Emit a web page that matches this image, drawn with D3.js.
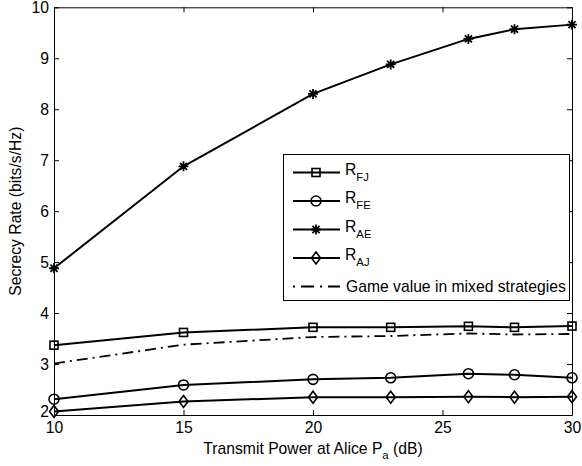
<!DOCTYPE html>
<html>
<head>
<meta charset="utf-8">
<script src="https://cdn.jsdelivr.net/npm/d3@7/dist/d3.min.js"></script>
<style>
  html, body { margin: 0; padding: 0; background: #fff; }
  svg { display: block; font-family: "Liberation Sans", Arial, Helvetica, sans-serif; }
</style>
</head>
<body>
<svg id="chart" width="582" height="466"></svg>
<script>
// Transmit power at Alice (dB)
const powerDb = [10, 15, 20, 23, 26, 27.78, 30];

// Secrecy rates (bits/s/Hz)
const rFJ  = [3.37, 3.62, 3.72, 3.72, 3.74, 3.72, 3.745];
const rFE  = [2.31, 2.59, 2.70, 2.73, 2.81, 2.79, 2.73];
const rAE  = [4.88, 6.88, 8.30, 8.88, 9.38, 9.57, 9.66];
const rAJ  = [2.07, 2.265, 2.35, 2.35, 2.36, 2.35, 2.36];
const gameValue = [3.01, 3.38, 3.53, 3.55, 3.60, 3.58, 3.59];

const xTicks = [10, 15, 20, 25, 30];
const yTicks = [2, 3, 4, 5, 6, 7, 8, 9, 10];

const seriesNames = ["FJ", "FE", "AE", "AJ"];
const gameLabel = "Game value in mixed strategies";

(function () {
  const svg = d3.select("#chart");
  const plotL = 54, plotR = 572, plotT = 7.3, plotB = 415;

  const x = d3.scaleLinear().domain([10, 30]).range([plotL, plotR]);
  const y = d3.scaleLinear().domain([2, 10]).range([plotB, plotT]);

  const FONT = 15.7;
  const tickLen = 5;

  // axes: closed box with inward ticks on all four sides
  const gx = svg.append("g").attr("transform", `translate(0,${plotB})`)
    .call(d3.axisBottom(x).tickValues(xTicks).tickSizeInner(-tickLen).tickSizeOuter(0).tickPadding(7).tickFormat(d3.format("d")));
  const gxTop = svg.append("g").attr("transform", `translate(0,${plotT})`)
    .call(d3.axisTop(x).tickValues(xTicks).tickSizeInner(-tickLen).tickSizeOuter(0).tickFormat(""));
  const gy = svg.append("g").attr("transform", `translate(${plotL},0)`)
    .call(d3.axisLeft(y).tickValues(yTicks).tickSizeInner(-tickLen).tickSizeOuter(0).tickPadding(5).tickFormat(d3.format("d")));
  const gyRight = svg.append("g").attr("transform", `translate(${plotR},0)`)
    .call(d3.axisRight(y).tickValues(yTicks).tickSizeInner(-tickLen).tickSizeOuter(0).tickFormat(""));

  [gx, gxTop, gy, gyRight].forEach(g => {
    g.select(".domain").attr("stroke", "#000").attr("stroke-width", 1);
    g.selectAll(".tick line").attr("stroke", "#000").attr("stroke-width", 1);
    g.selectAll(".tick text").attr("fill", "#000").attr("font-size", FONT)
      .attr("font-family", "Liberation Sans, Arial, sans-serif");
  });
  // lowest y label sits just above the x-axis labels
  gy.selectAll(".tick text").filter(d => d === 2).attr("dy", "0.1em");

  // axis titles
  const xl = svg.append("text").attr("x", (plotL + plotR) / 2).attr("y", 454)
    .attr("text-anchor", "middle").attr("font-size", FONT).attr("fill", "#000");
  xl.append("tspan").text("Transmit Power at Alice P");
  xl.append("tspan").attr("font-size", FONT * 0.72).attr("dy", 5).text("a");
  xl.append("tspan").attr("dy", -5).text(" (dB)");

  svg.append("text")
    .attr("transform", `translate(21,${(plotT + plotB) / 2}) rotate(-90)`)
    .attr("text-anchor", "middle").attr("font-size", FONT).attr("fill", "#000")
    .text("Secrecy Rate (bits/s/Hz)");

  // markers
  function drawMarker(g, kind, cx, cy) {
    if (kind === "square") {
      g.append("rect").attr("x", cx - 4).attr("y", cy - 4).attr("width", 8).attr("height", 8)
        .attr("fill", "none").attr("stroke", "#000").attr("stroke-width", 1.6);
    } else if (kind === "circle") {
      g.append("circle").attr("cx", cx).attr("cy", cy).attr("r", 5)
        .attr("fill", "none").attr("stroke", "#000").attr("stroke-width", 1.6);
    } else if (kind === "diamond") {
      g.append("path").attr("d", `M${cx},${cy - 6}L${cx + 4.5},${cy}L${cx},${cy + 6}L${cx - 4.5},${cy}Z`)
        .attr("fill", "none").attr("stroke", "#000").attr("stroke-width", 1.6);
    } else if (kind === "star") {
      const r = 5, d = r * Math.SQRT1_2;
      g.append("path").attr("d",
        `M${cx - r},${cy}L${cx + r},${cy}M${cx},${cy - r}L${cx},${cy + r}` +
        `M${cx - d},${cy - d}L${cx + d},${cy + d}M${cx - d},${cy + d}L${cx + d},${cy - d}`)
        .attr("fill", "none").attr("stroke", "#000").attr("stroke-width", 1.8);
    }
  }

  const series = [
    { key: "FJ", values: rFJ, marker: "square" },
    { key: "FE", values: rFE, marker: "circle" },
    { key: "AE", values: rAE, marker: "star" },
    { key: "AJ", values: rAJ, marker: "diamond" }
  ];

  const line = d3.line().x((d, i) => x(powerDb[i])).y(d => y(d));

  // game value curve (dash-dot, no markers)
  svg.append("path").datum(gameValue).attr("d", line)
    .attr("fill", "none").attr("stroke", "#000").attr("stroke-width", 1.8)
    .attr("stroke-dasharray", "11,5,2,5");

  series.forEach(s => {
    const g = svg.append("g");
    g.append("path").datum(s.values).attr("d", line)
      .attr("fill", "none").attr("stroke", "#000").attr("stroke-width", 2);
    s.values.forEach((v, i) => drawMarker(g, s.marker, x(powerDb[i]), y(v)));
  });

  // legend
  const lg = svg.append("g");
  lg.append("rect").attr("x", 283.5).attr("y", 154.5).attr("width", 286).attr("height", 146)
    .attr("fill", "#fff").attr("stroke", "#000").attr("stroke-width", 1);
  const rowY = [172.5, 201, 229.5, 258, 286.5];
  const lx0 = 293, lx1 = 340, lmx = 316, tx = 345;
  series.forEach((s, i) => {
    const yy = rowY[i];
    lg.append("line").attr("x1", lx0).attr("x2", lx1).attr("y1", yy).attr("y2", yy)
      .attr("stroke", "#000").attr("stroke-width", 2);
    drawMarker(lg, s.marker, lmx, yy);
    const t = lg.append("text").attr("x", tx).attr("y", yy + 2).attr("font-size", FONT).attr("fill", "#000");
    t.append("tspan").text("R");
    t.append("tspan").attr("font-size", FONT * 0.72).attr("dy", 6).text(seriesNames[i]);
  });
  lg.append("line").attr("x1", lx0).attr("x2", lx1).attr("y1", rowY[4]).attr("y2", rowY[4])
    .attr("stroke", "#000").attr("stroke-width", 1.8).attr("stroke-dasharray", "2,6,13,6");
  lg.append("text").attr("x", 346).attr("y", rowY[4] + 5.5).attr("font-size", FONT).attr("fill", "#000")
    .text(gameLabel);
})();
</script>
</body>
</html>
